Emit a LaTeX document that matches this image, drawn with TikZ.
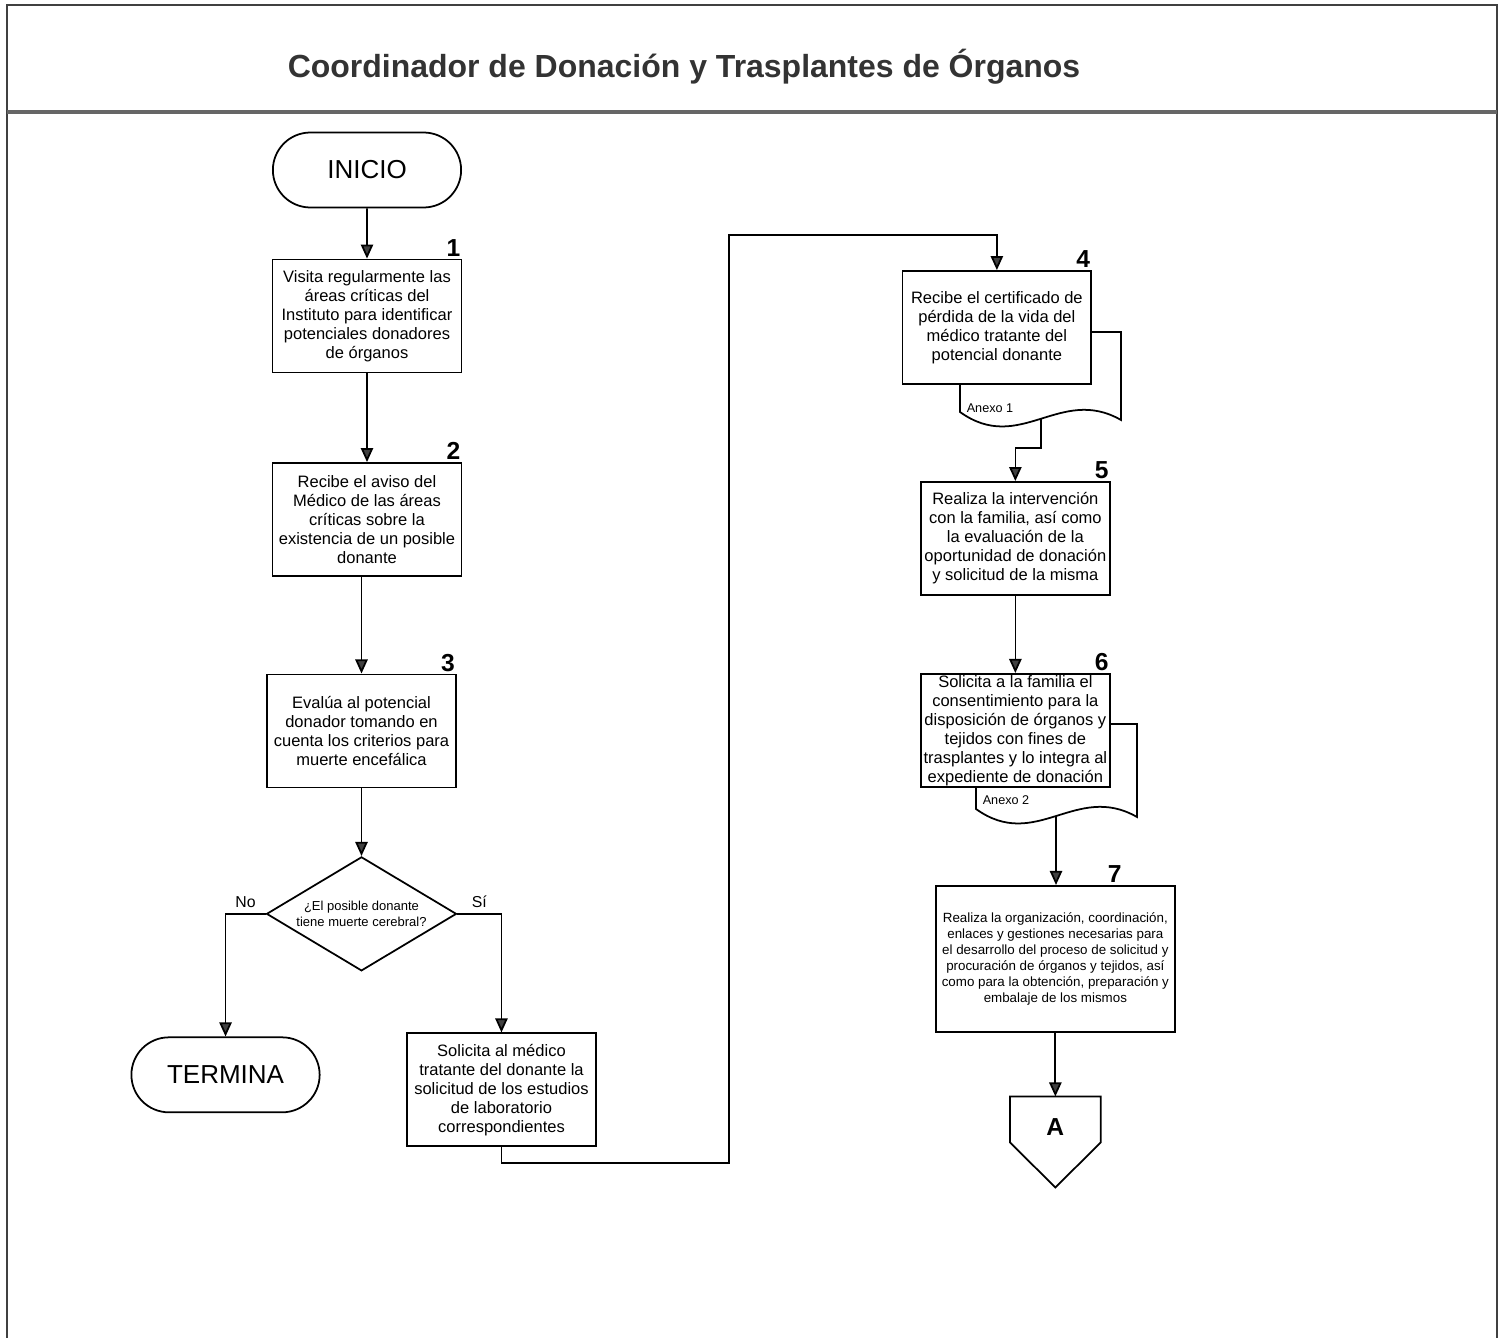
\documentclass[tikz,border=0pt]{standalone}
\usepackage{fontspec}
\setmainfont{Liberation Sans}
\usepackage{tikz}
\usetikzlibrary{shapes.geometric, shapes.misc, arrows.meta, calc}
\tikzstyle{startend} = [rounded rectangle, draw=black, line width=1pt, minimum width=4cm, minimum height=1.5cm, font=\fontsize{14.8pt}{17pt}\selectfont]
\tikzstyle{process} = [rectangle, draw=black, line width=1pt, fill=white, minimum width=3.78cm, minimum height=2.26cm, inner sep=0.5pt, align=center, font=\fontsize{9.4pt}{10.8pt}\selectfont]
\tikzstyle{process1} = [process, minimum width=4.78cm, minimum height=2.92cm, font=\fontsize{7.6pt}{9.1pt}\selectfont]
\tikzstyle{decision} = [diamond, aspect=1.67, draw=black, line width=1pt, minimum width=3.8cm, minimum height=2.28cm, inner sep=0pt, align=center, font=\fontsize{7.4pt}{8.6pt}\selectfont]
\tikzstyle{offpage} = [minimum width=1.8cm, minimum height=1.2cm, inner sep=0pt, font=\bfseries\fontsize{14pt}{16pt}\selectfont]
\tikzstyle{stepnum} = [anchor=south east, inner sep=1pt, font=\bfseries\fontsize{14pt}{16pt}\selectfont]
\tikzstyle{docback} = [draw=black, line width=1pt, fill=white]
\tikzstyle{annex} = [font=\fontsize{7.2pt}{8pt}\selectfont]
\tikzstyle{branch} = [font=\fontsize{9pt}{10pt}\selectfont, inner sep=3pt]
\tikzstyle{frame} = [line width=1.6pt, draw=black!75]
\tikzstyle{line} = [line width=1pt]
\tikzstyle{arrow} = [line, -{Triangle[length=8pt,width=7pt,fill=black!75]}]
\begin{document}
\begin{tikzpicture}[x=0.02cm, y=-0.02cm, node distance=2cm]
            \useasboundingbox (0,0) rectangle (1502,1338);
            % marco y titulo
            \draw [frame] (7,1338) -- (7,5) -- (1497,5) -- (1497,1338);
            \draw [frame, line width=2.4pt, draw=black!60] (7,112) -- (1497,112);
            \node (title) at (684,67) [font=\bfseries\fontsize{18.2pt}{20pt}\selectfont, text=black!80] {Coordinador de Donación y Trasplantes de Órganos};
            % anexos (documentos)
            \draw [docback] (960,332) -- (1121,332) -- (1121,420) .. controls (1060,385) and (1020,455) .. (960,412) -- cycle;
            \draw [docback] (976,724) -- (1137,724) -- (1137,817) .. controls (1076,782) and (1036,852) .. (976,809) -- cycle;
            \coordinate (d1) at (1041,419);
            \coordinate (d2) at (1056,816);
            \node (anx1) [annex] at (990,408) {Anexo 1};
            \node (anx2) [annex] at (1006,800) {Anexo 2};
            % nodos
            \node (start) [startend] at (367,170) {INICIO};
            \node (s1) [process, below of=start, yshift=-0.92cm] {Visita regularmente las\\áreas críticas del\\Instituto para identificar\\potenciales donadores\\de órganos};
            \node (s2) [process, below of=s1, yshift=-2.07cm] {Recibe el aviso del\\Médico de las áreas\\críticas sobre la\\existencia de un posible\\donante};
            \node (s3) [process, below of=s2, xshift=-0.11cm, yshift=-2.23cm] {Evalúa al potencial\\donador tomando en\\cuenta los criterios para\\muerte encefálica};
            \node (dec) [decision, below of=s3, yshift=-1.66cm] {¿El posible donante\\tiene muerte cerebral?};
            \node (term) [startend, below of=dec, xshift=-2.72cm, yshift=-1.22cm] {TERMINA};
            \node (sol) [process, below of=dec, xshift=2.8cm, yshift=-1.52cm] {Solicita al médico\\tratante del donante la\\solicitud de los estudios\\de laboratorio\\correspondientes};
            \node (s4) [process, right of=s1, xshift=10.6cm, yshift=-0.23cm] {Recibe el certificado de\\pérdida de la vida del\\médico tratante del\\potencial donante};
            \node (s5) [process, below of=s4, xshift=0.37cm, yshift=-2.22cm] {Realiza la intervención\\con la familia, así como\\la evaluación de la\\oportunidad de donación\\y solicitud de la misma};
            \node (s6) [process, below of=s5, yshift=-1.84cm] {Solicita a la familia el\\consentimiento para la\\disposición de órganos y\\tejidos con fines de\\trasplantes y lo integra al\\expediente de donación};
            \node (s7) [process1, below of=s6, xshift=0.8cm, yshift=-2.57cm] {Realiza la organización, coordinación,\\enlaces y gestiones necesarias para\\el desarrollo del proceso de solicitud y\\procuración de órganos y tejidos, así\\como para la obtención, preparación y\\embalaje de los mismos};
            \node (conA) [offpage, below of=s7, yshift=-1.36cm] {A};
            \draw [line] (conA.north west) -- (conA.north east) -- ($(conA.north east)+(0,46)$) -- ($(conA.north)+(0,91)$) -- ($(conA.north west)+(0,46)$) -- cycle;
            % numeros de paso
            \node (n1) [stepnum] at (s1.north east) {1};
            \node (n2) [stepnum] at (s2.north east) {2};
            \node (n3) [stepnum] at (s3.north east) {3};
            \node (n4) [stepnum] at (s4.north east) {4};
            \node (n5) [stepnum] at (s5.north east) {5};
            \node (n6) [stepnum] at (s6.north east) {6};
            \node (n7) [stepnum] at ($(s7.north east)+(-52,0)$) {7};
            % conectores
            \draw [arrow] (start) -- (s1);
            \draw [arrow] (s1) -- (s2);
            \draw [arrow] (s2.south -| s3.north) -- (s3.north);
            \draw [arrow] (s3) -- (dec);
            \draw [arrow] (dec.west) -| node[branch, pos=0.25, above] {No} (term.north);
            \draw [arrow] (dec.east) -| node[branch, pos=0.25, above] {Sí} (sol.north);
            \draw [arrow] (sol.south) |- (729,1163) -- (729,235) -| (s4.north);
            \draw [arrow] (d1) -- ++(0,29) -| (s5.north);
            \draw [arrow] (s5) -- (s6);
            \draw [arrow] (d2) -- (d2 |- s7.north);
            \draw [arrow] (s7) -- (conA);
            \end{tikzpicture}
\end{document}
